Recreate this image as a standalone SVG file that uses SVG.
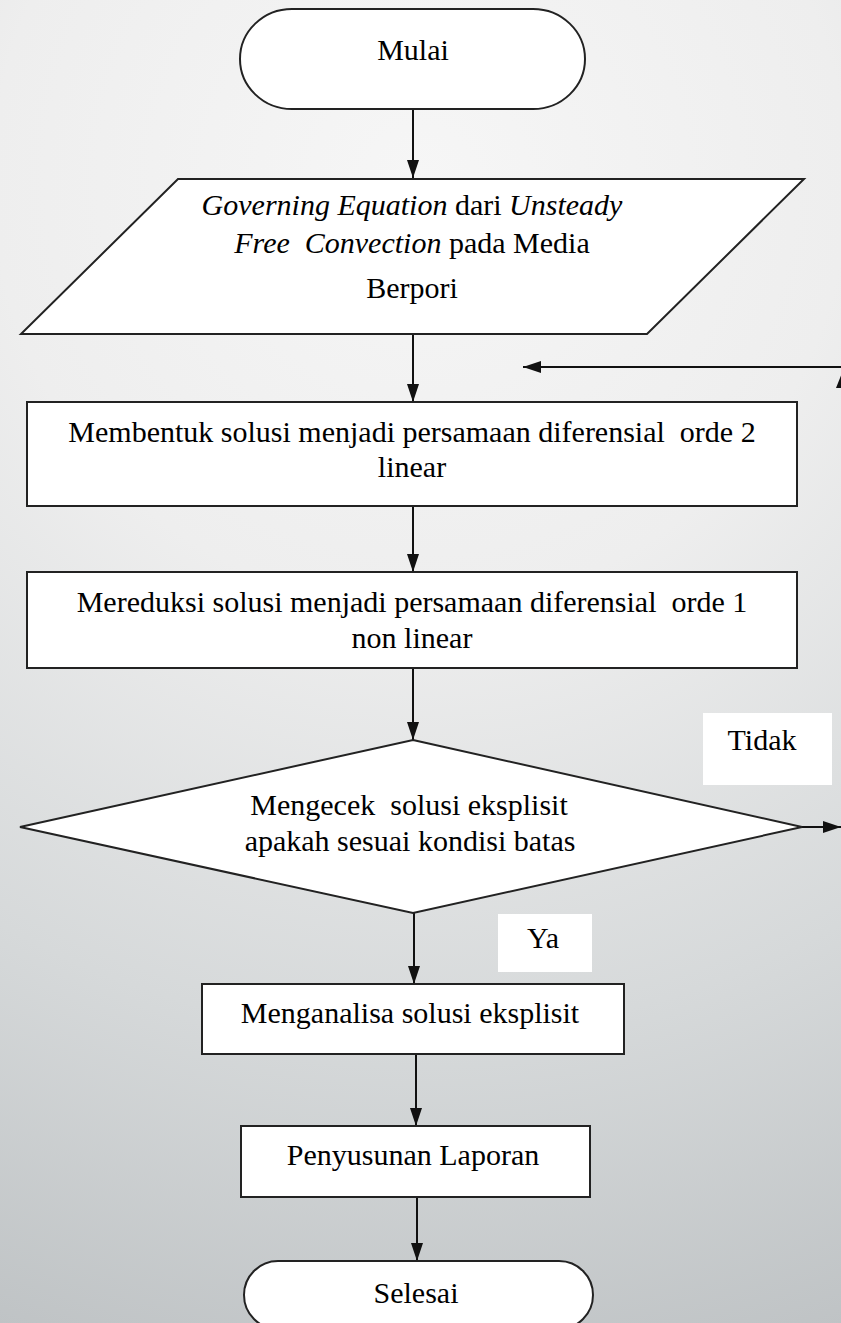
<svg xmlns="http://www.w3.org/2000/svg" width="841" height="1323" viewBox="0 0 841 1323">
<defs>
<radialGradient id="bg" gradientUnits="userSpaceOnUse" cx="420" cy="180" r="1220">
<stop offset="0" stop-color="#f6f6f6"/>
<stop offset="0.35" stop-color="#eeeeee"/>
<stop offset="0.7" stop-color="#d6d9da"/>
<stop offset="1" stop-color="#bfc3c5"/>
</radialGradient>
<marker id="ah" markerWidth="18" markerHeight="12" refX="18" refY="6" orient="auto" markerUnits="userSpaceOnUse">
<path d="M0,0 L18,6 L0,12 z" fill="#111"/>
</marker>
</defs>
<style>
.shape{fill:#fff;stroke:#222;stroke-width:2}
.lbl{fill:#fff;stroke:none}
.t{font-family:"Liberation Serif","Times New Roman",serif;font-size:30px;fill:#000;text-anchor:middle}
.i{font-style:italic}
.c{fill:none;stroke:#111;stroke-width:2}
</style>
<rect x="0" y="0" width="841" height="1323" fill="url(#bg)"/>

<g id="connectors">
<line class="c" x1="413" y1="109" x2="413" y2="178" marker-end="url(#ah)"/>
<line class="c" x1="413" y1="334" x2="413" y2="402" marker-end="url(#ah)"/>
<line class="c" x1="841" y1="367" x2="523" y2="367" marker-end="url(#ah)"/>
<polygon points="836,388 842,373 848,388" fill="#111"/>
<line class="c" x1="413" y1="506" x2="413" y2="572" marker-end="url(#ah)"/>
<line class="c" x1="413" y1="668" x2="413" y2="740" marker-end="url(#ah)"/>
<line class="c" x1="802" y1="827" x2="841" y2="827" marker-end="url(#ah)"/>
<line class="c" x1="414" y1="913" x2="414" y2="984" marker-end="url(#ah)"/>
<line class="c" x1="416" y1="1054" x2="416" y2="1126" marker-end="url(#ah)"/>
<line class="c" x1="417" y1="1197" x2="417" y2="1261" marker-end="url(#ah)"/>
</g>

<g id="mulai">
<rect class="shape" x="240" y="9" width="345" height="100" rx="52" ry="50"/>
<text class="t" x="413" y="60">Mulai</text>
</g>

<g id="governing">
<polygon class="shape" points="178,179 804,179 647,334 21,334"/>
<text class="t" x="412" y="215"><tspan class="i">Governing Equation</tspan> dari <tspan class="i">Unsteady</tspan></text>
<text class="t" x="412" y="253"><tspan class="i">Free&#160; Convection</tspan> pada Media</text>
<text class="t" x="412" y="298">Berpori</text>
</g>

<g id="membentuk">
<rect class="shape" x="27" y="402" width="770" height="104"/>
<text class="t" x="412" y="442">Membentuk solusi menjadi persamaan diferensial&#160; orde 2</text>
<text class="t" x="412" y="477">linear</text>
</g>

<g id="mereduksi">
<rect class="shape" x="27" y="572" width="770" height="96"/>
<text class="t" x="412" y="612">Mereduksi solusi menjadi persamaan diferensial&#160; orde 1</text>
<text class="t" x="412" y="648">non linear</text>
</g>

<g id="mengecek">
<polygon class="shape" points="413,740 802,827 413,913 20,827"/>
<text class="t" x="409" y="815">Mengecek&#160; solusi eksplisit</text>
<text class="t" x="410" y="851">apakah sesuai kondisi batas</text>
</g>

<g id="tidak">
<rect class="lbl" x="703" y="713" width="129" height="72"/>
<text class="t" x="762" y="750">Tidak</text>
</g>

<g id="ya">
<rect class="lbl" x="498" y="914" width="94" height="58"/>
<text class="t" x="543" y="948">Ya</text>
</g>

<g id="menganalisa">
<rect class="shape" x="202" y="984" width="422" height="70"/>
<text class="t" x="410" y="1023">Menganalisa solusi eksplisit</text>
</g>

<g id="penyusunan">
<rect class="shape" x="241" y="1126" width="349" height="71"/>
<text class="t" x="413" y="1165">Penyusunan Laporan</text>
</g>

<g id="selesai">
<rect class="shape" x="244" y="1261" width="349" height="68" rx="34" ry="34"/>
<text class="t" x="416" y="1303">Selesai</text>
</g>
</svg>
